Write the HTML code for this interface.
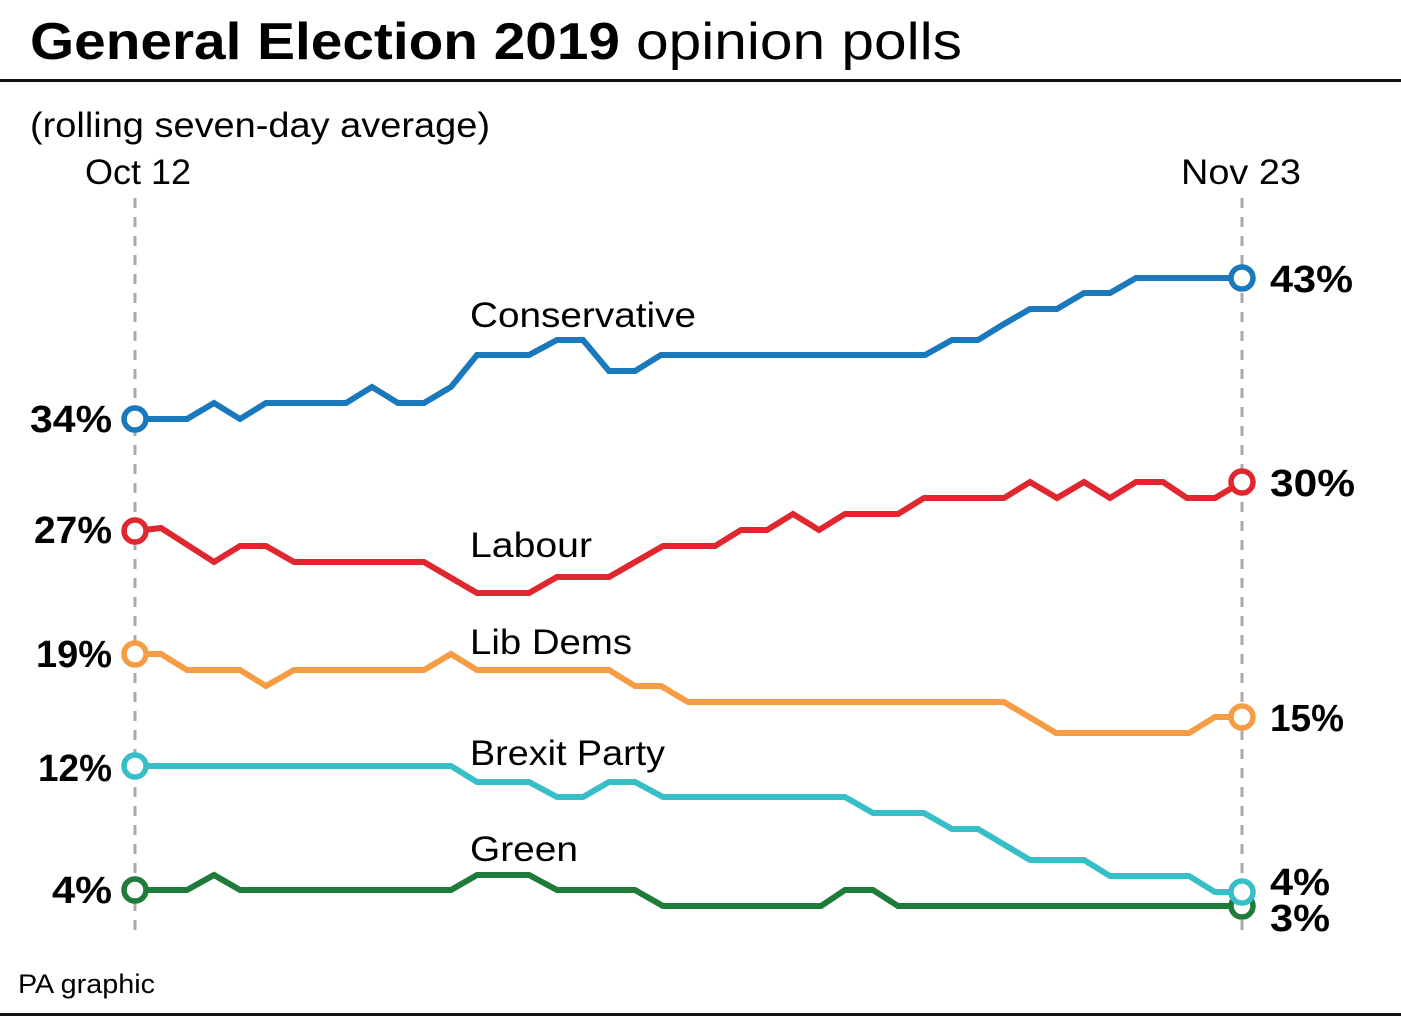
<!DOCTYPE html>
<html><head><meta charset="utf-8"><style>
html,body{margin:0;padding:0;background:#fff;}
svg{display:block;font-family:"Liberation Sans",sans-serif;}
</style></head><body>
<svg width="1401" height="1019" viewBox="0 0 1401 1019" xmlns="http://www.w3.org/2000/svg">
<rect width="1401" height="1019" fill="#fff"/>
<text x="30" y="59" font-size="52" font-weight="bold" textLength="590" lengthAdjust="spacingAndGlyphs">General Election 2019</text>
<text x="636" y="59" font-size="52" textLength="326" lengthAdjust="spacingAndGlyphs">opinion polls</text>
<rect x="0" y="79" width="1401" height="3" fill="#111"/>
<text x="30" y="137" font-size="35" textLength="460" lengthAdjust="spacingAndGlyphs">(rolling seven-day average)</text>
<text x="85" y="184" font-size="35" textLength="106" lengthAdjust="spacingAndGlyphs">Oct 12</text>
<text x="1181" y="184" font-size="35" textLength="120" lengthAdjust="spacingAndGlyphs">Nov 23</text>
<line x1="135" y1="198" x2="135" y2="938" stroke="#aaa" stroke-width="3" stroke-dasharray="10,9"/>
<line x1="1242" y1="198" x2="1242" y2="938" stroke="#aaa" stroke-width="3" stroke-dasharray="10,9"/>
<g fill="none" stroke-width="6" stroke-linejoin="miter">
<polyline stroke="#1a78bd" points="135,419 187,419 214,403 240,419 266,403 346,403 372,387 398,403 424,403 451,387 477,355 529,355 557,340 583,340 609,371 635,371 661,355 925,355 952,340 978,340 1004,324 1030,309 1057,309 1084,293 1110,293 1136,278 1242,278"/>
<polyline stroke="#e0262f" points="135,531 161,528 214,562 240,546 266,546 294,562 424,562 477,593 529,593 557,577 609,577 663,546 715,546 741,530 767,530 793,514 819,530 845,514 898,514 924,498 1004,498 1030,482 1057,498 1084,482 1110,498 1136,482 1163,482 1187,498 1215,498 1242,482"/>
<polyline stroke="#f59c45" points="135,654 161,654 187,670 240,670 266,686 294,670 424,670 451,654 477,670 609,670 635,686 661,686 688,702 1004,702 1056,733 1189,733 1215,717 1242,717"/>
<polyline stroke="#36bfc6" points="135,766 451,766 477,782 529,782 557,797 583,797 609,782 635,782 663,797 845,797 873,813 924,813 952,829 978,829 1030,860 1084,860 1110,876 1189,876 1215,892 1242,892"/>
<polyline stroke="#1e7b3a" points="135,890 187,890 214,875 240,890 451,890 477,875 529,875 557,890 635,890 663,906 821,906 845,890 873,890 898,906 1242,906"/>
</g>
<g fill="#fff" stroke-width="5.5">
<circle cx="135" cy="419" r="11" stroke="#1a78bd"/>
<circle cx="135" cy="531" r="11" stroke="#e0262f"/>
<circle cx="135" cy="654" r="11" stroke="#f59c45"/>
<circle cx="135" cy="766" r="11" stroke="#36bfc6"/>
<circle cx="135" cy="890" r="11" stroke="#1e7b3a"/>
<circle cx="1242" cy="278" r="11" stroke="#1a78bd"/>
<circle cx="1242" cy="482" r="11" stroke="#e0262f"/>
<circle cx="1242" cy="717" r="11" stroke="#f59c45"/>
<circle cx="1242" cy="906" r="11" stroke="#1e7b3a"/>
<circle cx="1242" cy="892" r="11" stroke="#36bfc6"/>
</g>
<g font-size="38" font-weight="bold" lengthAdjust="spacingAndGlyphs">
<text x="30" y="432" textLength="82" lengthAdjust="spacingAndGlyphs">34%</text>
<text x="34" y="543" textLength="78" lengthAdjust="spacingAndGlyphs">27%</text>
<text x="36" y="667" textLength="76" lengthAdjust="spacingAndGlyphs">19%</text>
<text x="38" y="781" textLength="74" lengthAdjust="spacingAndGlyphs">12%</text>
<text x="52" y="903" textLength="60" lengthAdjust="spacingAndGlyphs">4%</text>
<text x="1270" y="292" textLength="83" lengthAdjust="spacingAndGlyphs">43%</text>
<text x="1270" y="496" textLength="85" lengthAdjust="spacingAndGlyphs">30%</text>
<text x="1270" y="731" textLength="74" lengthAdjust="spacingAndGlyphs">15%</text>
<text x="1270" y="895" textLength="60" lengthAdjust="spacingAndGlyphs">4%</text>
<text x="1270" y="931" textLength="60" lengthAdjust="spacingAndGlyphs">3%</text>
</g>
<g font-size="35">
<text x="470" y="327" textLength="226" lengthAdjust="spacingAndGlyphs">Conservative</text>
<text x="470" y="557" textLength="122" lengthAdjust="spacingAndGlyphs">Labour</text>
<text x="470" y="654" textLength="162" lengthAdjust="spacingAndGlyphs">Lib Dems</text>
<text x="470" y="765" textLength="195" lengthAdjust="spacingAndGlyphs">Brexit Party</text>
<text x="470" y="861" textLength="108" lengthAdjust="spacingAndGlyphs">Green</text>
</g>
<text x="18" y="993" font-size="27" textLength="137" lengthAdjust="spacingAndGlyphs">PA graphic</text>
<rect x="0" y="1013" width="1401" height="3" fill="#111"/>
</svg>
</body></html>
